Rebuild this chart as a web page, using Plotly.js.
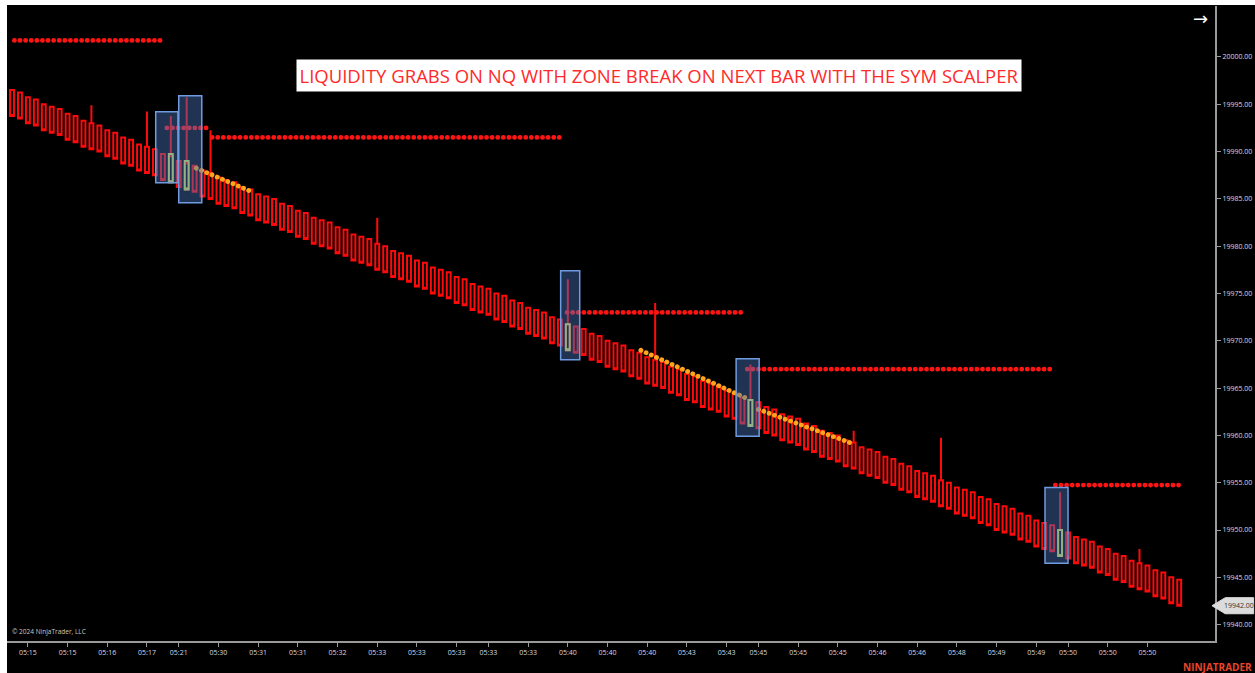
<!DOCTYPE html>
<html>
<head>
<meta charset="utf-8">
<script src="https://cdn.plot.ly/plotly-3.0.1.min.js"></script>
<style>
html,body{margin:0;padding:0;background:#ffffff;overflow:hidden;}
#chart{position:absolute;left:7px;top:5px;width:1248px;height:668px;}
.scatterlayer .js-line{stroke-linecap:round;}
</style>
</head>
<body>
<div id="chart"></div>
<script>
// ---- bar data (index-based bars, price in points) ----
const opens = [
 19996.5, 19996.25, 19995.75, 19995.5, 19995.0, 19994.75, 19994.5, 19994.0, 19993.75, 19993.25,
 19993.0, 19992.75, 19992.25, 19992.0, 19991.5, 19991.25, 19990.75, 19990.5, 19990.25, 19989.75,
 19989.5, 19989.0, 19988.75, 19988.5, 19988.0, 19987.75, 19987.25, 19987.0, 19986.75, 19986.25,
 19986.0, 19985.5, 19985.25, 19985.0, 19984.5, 19984.25, 19983.75, 19983.5, 19983.0, 19982.75,
 19982.5, 19982.0, 19981.75, 19981.25, 19981.0, 19980.75, 19980.25, 19980.0, 19979.5, 19979.25,
 19979.0, 19978.5, 19978.25, 19977.75, 19977.5, 19977.25, 19976.75, 19976.5, 19976.0, 19975.75,
 19975.5, 19975.0, 19974.75, 19974.25, 19974.0, 19973.5, 19973.25, 19973.0, 19972.5, 19972.25,
 19971.75, 19971.5, 19971.25, 19970.75, 19970.5, 19970.0, 19969.75, 19969.5, 19969.0, 19968.75,
 19968.25, 19968.0, 19967.75, 19967.25, 19967.0, 19966.5, 19966.25, 19965.75, 19965.5, 19965.25,
 19964.75, 19964.5, 19964.0, 19963.75, 19963.5, 19963.0, 19962.75, 19962.25, 19962.0, 19961.75,
 19961.25, 19961.0, 19960.5, 19960.25, 19960.0, 19959.5, 19959.25, 19958.75, 19958.5, 19958.25,
 19957.75, 19957.5, 19957.0, 19956.75, 19956.25, 19956.0, 19955.75, 19955.25, 19955.0, 19954.5,
 19954.25, 19954.0, 19953.5, 19953.25, 19952.75, 19952.5, 19952.25, 19951.75, 19951.5, 19951.0,
 19950.75, 19950.5, 19950.0, 19949.75, 19949.25, 19949.0, 19948.75, 19948.25, 19948.0, 19947.5,
 19947.25, 19946.75, 19946.5, 19946.25, 19945.75, 19945.5, 19945.0, 19944.75
];
const closes = [
 19993.75, 19993.5, 19993.0, 19992.75, 19992.25, 19992.0, 19991.75, 19991.25, 19991.0, 19990.5,
 19990.25, 19990.0, 19989.5, 19989.25, 19988.75, 19988.5, 19988.0, 19987.75, 19987.5, 19987.0,
 19986.75, 19986.25, 19986.0, 19985.75, 19985.25, 19985.0, 19984.5, 19984.25, 19984.0, 19983.5,
 19983.25, 19982.75, 19982.5, 19982.25, 19981.75, 19981.5, 19981.0, 19980.75, 19980.25, 19980.0,
 19979.75, 19979.25, 19979.0, 19978.5, 19978.25, 19978.0, 19977.5, 19977.25, 19976.75, 19976.5,
 19976.25, 19975.75, 19975.5, 19975.0, 19974.75, 19974.5, 19974.0, 19973.75, 19973.25, 19973.0,
 19972.75, 19972.25, 19972.0, 19971.5, 19971.25, 19970.75, 19970.5, 19970.25, 19969.75, 19969.5,
 19969.0, 19968.75, 19968.5, 19968.0, 19967.75, 19967.25, 19967.0, 19966.75, 19966.25, 19966.0,
 19965.5, 19965.25, 19965.0, 19964.5, 19964.25, 19963.75, 19963.5, 19963.0, 19962.75, 19962.5,
 19962.0, 19961.75, 19961.25, 19961.0, 19960.75, 19960.25, 19960.0, 19959.5, 19959.25, 19959.0,
 19958.5, 19958.25, 19957.75, 19957.5, 19957.25, 19956.75, 19956.5, 19956.0, 19955.75, 19955.5,
 19955.0, 19954.75, 19954.25, 19954.0, 19953.5, 19953.25, 19953.0, 19952.5, 19952.25, 19951.75,
 19951.5, 19951.25, 19950.75, 19950.5, 19950.0, 19949.75, 19949.5, 19949.0, 19948.75, 19948.25,
 19948.0, 19947.75, 19947.25, 19947.0, 19946.5, 19946.25, 19946.0, 19945.5, 19945.25, 19944.75,
 19944.5, 19944.0, 19943.75, 19943.5, 19943.0, 19942.75, 19942.25, 19942.0
];
// upper wicks (liquidity grabs)
const wickBars  = [10, 17, 20, 22, 25, 46, 70, 81, 93, 106, 117, 132, 142];
const wickHighs = [19994.9, 19994.25, 19993.75, 19995.75, 19992.25, 19983.0, 19976.5, 19974.0, 19967.5, 19960.5, 19959.75, 19954.0, 19948.0];

// signal (zone break) bars
const signalBars   = [20, 22, 70, 93, 132];
const signalOpens  = [19989.75, 19989.0, 19971.75, 19963.75, 19950.0];
const signalCloses = [19986.75, 19986.0, 19969.0, 19961.0, 19947.25];

// zones (blue rectangles)
const zoneStart = [18.1, 21.0, 69.1, 91.2, 130.1];
const zoneEnd   = [20.9, 23.9, 71.5, 94.1, 133.0];
const zoneLow   = [19986.7, 19984.6, 19968.0, 19959.9, 19946.5];
const zoneHigh  = [19994.2, 19995.9, 19977.4, 19968.1, 19954.5];

// red dotted levels
const levelPrice = [20001.75, 19992.5, 19991.5, 19973.0, 19967.0, 19954.75];
const levelStart = [0.3, 19.5, 25.2, 69.9, 92.6, 131.4];
const levelEnd   = [19.0, 24.7, 69.4, 92.1, 131.1, 147.3];

// orange trailing dots
const trailStart      = [23.2, 79.2, 94.0];
const trailEnd        = [30.2, 92.3, 105.5];
const trailStartPrice = [19988.25, 19969.0, 19962.75];
const trailEndPrice   = [19985.75, 19964.0, 19959.25];

// axis ticks
const xTickBars = [2,7,12,17,21,26,31,36,41,46,51,56,60,65,70,75,80,85,90,94,99,104,109,114,119,124,129,133,138,143];
const xTickLabels = ["05:15","05:15","05:16","05:17","05:21","05:30","05:31","05:31","05:32","05:33",
  "05:33","05:33","05:33","05:33","05:40","05:40","05:40","05:43","05:43","05:45",
  "05:45","05:45","05:46","05:46","05:48","05:49","05:49","05:50","05:50","05:50"];
const yTicks = [19940,19945,19950,19955,19960,19965,19970,19975,19980,19985,19990,19995,20000];

const titleText = "LIQUIDITY GRABS ON NQ WITH ZONE BREAK ON NEXT BAR WITH THE SYM SCALPER";

// ---- build traces ----
const xs = opens.map((_, i) => i);
const highs = opens.map((o, i) => { const k = wickBars.indexOf(i); return k >= 0 ? wickHighs[k] : o; });

const RED = '#ff0a0a';
const data = [];
data.push({
  type: 'candlestick', x: xs, open: opens, high: highs, low: closes, close: closes,
  increasing: {line: {color: RED, width: 2}, fillcolor: 'rgba(0,0,0,0)'},
  decreasing: {line: {color: RED, width: 2}, fillcolor: 'rgba(0,0,0,0)'},
  whiskerwidth: 0, hoverinfo: 'skip', showlegend: false
});
data.push({
  type: 'candlestick', x: signalBars, open: signalOpens, high: signalOpens, low: signalCloses, close: signalCloses,
  increasing: {line: {color: '#d6e25a', width: 2}, fillcolor: 'rgba(0,0,0,0)'},
  decreasing: {line: {color: '#d6e25a', width: 2}, fillcolor: 'rgba(0,0,0,0)'},
  whiskerwidth: 0, hoverinfo: 'skip', showlegend: false
});
levelPrice.forEach((p, k) => {
  data.push({type: 'scatter', mode: 'lines', x: [levelStart[k], levelEnd[k]], y: [p, p],
    line: {color: '#ff1414', width: 4.8, dash: '0.1px,5.5px'}, hoverinfo: 'skip', showlegend: false});
});
trailStart.forEach((s, k) => {
  data.push({type: 'scatter', mode: 'lines', x: [s, trailEnd[k]], y: [trailStartPrice[k], trailEndPrice[k]],
    line: {color: '#ffa41c', width: 4.8, dash: '0.1px,5.6px'}, hoverinfo: 'skip', showlegend: false});
});

const shapes = zoneStart.map((s, k) => ({
  type: 'rect', xref: 'x', yref: 'y', layer: 'above',
  x0: s, x1: zoneEnd[k], y0: zoneLow[k], y1: zoneHigh[k],
  fillcolor: 'rgba(72,112,185,0.45)', line: {color: '#6f9be0', width: 1.5}
}));
const lastClose = closes[closes.length - 1];
// price marker on right axis
shapes.push({
  type: 'path', xref: 'paper', yref: 'y', layer: 'above',
  path: `M 0.9975,${lastClose} L 1.0085,${lastClose + 0.85} L 1.0320,${lastClose + 0.85} L 1.0320,${lastClose - 0.85} L 1.0085,${lastClose - 0.85} Z`,
  fillcolor: '#dcdcdc', line: {color: '#dcdcdc', width: 1}
});

const annotations = [
  {text: titleText, xref: 'paper', yref: 'paper', x: 0.5397, y: 0.8913, xanchor: 'center', yanchor: 'middle',
   showarrow: false, bgcolor: '#ffffff', width: 722, height: 29,
   font: {family: 'Open Sans, sans-serif', size: 18.5, color: '#ff2a2a'}},
  {text: lastClose.toFixed(2), xref: 'paper', yref: 'y', x: 1.0195, y: lastClose, xanchor: 'center', yanchor: 'middle',
   showarrow: false, font: {family: 'Open Sans, sans-serif', size: 7, color: '#333333'}},
  {text: '→', xref: 'paper', yref: 'paper', x: 0.9876, y: 0.981, xanchor: 'center', yanchor: 'middle',
   showarrow: false, font: {family: 'DejaVu Sans, sans-serif', size: 18, color: '#ffffff'}},
  {text: '© 2024 NinjaTrader, LLC', xref: 'paper', yref: 'paper', x: 0.0025, y: 0.0142, xanchor: 'left', yanchor: 'middle',
   showarrow: false, font: {family: 'Open Sans, sans-serif', size: 6.5, color: '#c8c8c8'}},
  {text: '<b>NINJATRADER</b>', xref: 'paper', yref: 'paper', x: 1.0325, y: -0.041, xanchor: 'right', yanchor: 'middle',
   showarrow: false, font: {family: 'Open Sans, sans-serif', size: 10, color: '#e8452c'}}
];

const layout = {
  width: 1248, height: 668,
  margin: {l: 0, r: 40, t: 1, b: 32},
  paper_bgcolor: '#000000', plot_bgcolor: '#000000',
  showlegend: false, hovermode: false,
  xaxis: {
    range: [-0.63, 151.51], rangeslider: {visible: false},
    showgrid: false, zeroline: false, showline: true, linecolor: '#9a9a9a', linewidth: 2,
    ticks: 'outside', ticklen: 4, tickcolor: '#9a9a9a', tickwidth: 1,
    tickmode: 'array', tickvals: xTickBars, ticktext: xTickLabels,
    tickfont: {family: 'Open Sans, sans-serif', size: 7, color: '#d8d8e0'}
  },
  yaxis: {
    range: [19938.27, 20005.39], side: 'right',
    showgrid: false, zeroline: false, showline: true, linecolor: '#9a9a9a', linewidth: 2,
    ticks: 'outside', ticklen: 4, tickcolor: '#9a9a9a', tickwidth: 1,
    tickmode: 'array', tickvals: yTicks, tickformat: '.2f',
    tickfont: {family: 'Open Sans, sans-serif', size: 7, color: '#d8d8e0'}
  },
  shapes: shapes,
  annotations: annotations
};

Plotly.newPlot('chart', data, layout, {staticPlot: true, displayModeBar: false});
</script>
</body>
</html>
